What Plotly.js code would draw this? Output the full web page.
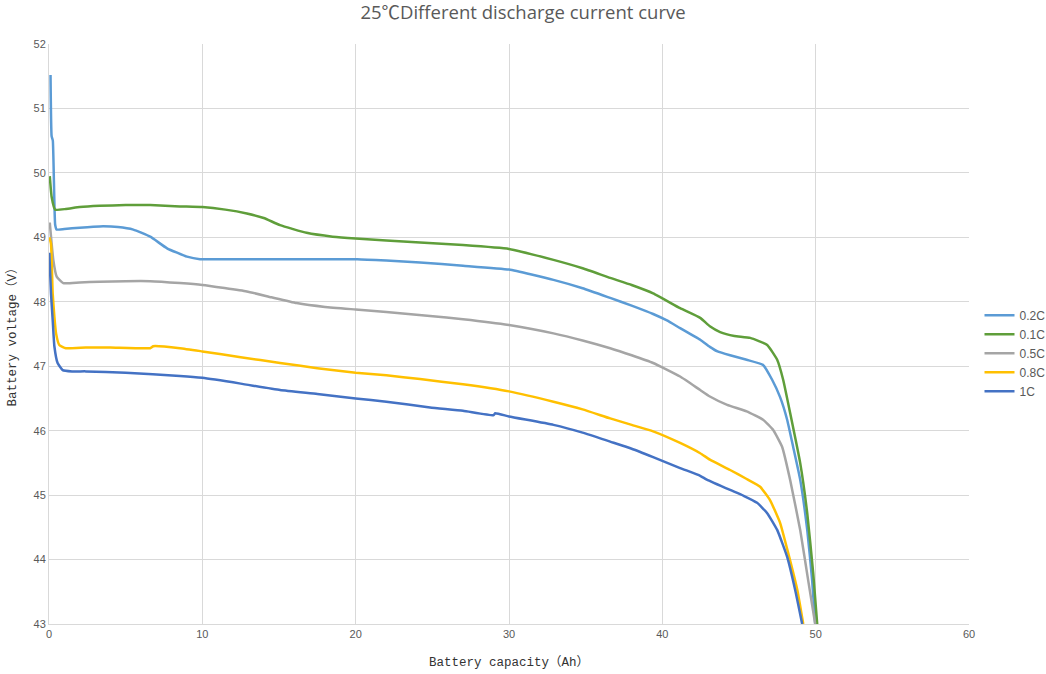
<!DOCTYPE html>
<html>
<head>
<meta charset="utf-8">
<script src="https://cdn.plot.ly/plotly-3.0.1.min.js"></script>
<style>html,body{margin:0;padding:0;background:#fff;overflow:hidden;width:1046px;height:674px}#chart{width:1075px;height:674px}</style>
</head>
<body>
<div id="chart"></div>
<script>
const seriesNames = ["0.2C", "0.1C", "0.5C", "0.8C", "1C"];
const seriesColors = ["#5B9BD5", "#5F9E3A", "#A5A5A5", "#FFC000", "#4472C4"];

const c02_x = [0.1, 0.17, 0.25, 0.4, 0.5, 1, 2, 3.3, 4.5, 5.5, 6.6, 7.7, 9, 9.85, 10.5, 15, 20.1, 22, 24.2, 27, 30, 32.9, 34.8, 36.6, 38, 39.4, 40.3, 41.16, 42.47, 43.1, 43.6, 44.42, 45.5, 46.57, 47.16, 47.68, 48.14, 48.53, 48.99, 49.45, 49.77, 49.97];
const c02_y = [51.52, 50.57, 50.5, 49.2, 49.12, 49.13, 49.15, 49.17, 49.16, 49.12, 49.01, 48.83, 48.70, 48.66, 48.66, 48.66, 48.66, 48.64, 48.61, 48.56, 48.50, 48.34, 48.21, 48.06, 47.94, 47.81, 47.71, 47.59, 47.41, 47.30, 47.23, 47.17, 47.10, 47.02, 46.79, 46.52, 46.17, 45.75, 45.24, 44.46, 43.68, 43.0];

const c01_x = [0.05, 0.17, 0.4, 1.1, 2, 3.3, 5, 6.6, 8.54, 10, 11.5, 12.9, 14, 15.07, 16.8, 18.5, 20, 22, 24.2, 27, 30, 32.9, 34.8, 36.6, 38, 39.4, 41.16, 42.47, 43.1, 43.77, 44.7, 45.73, 46.84, 47.49, 47.88, 48.34, 48.99, 49.45, 49.84, 50.1];
const c01_y = [49.95, 49.63, 49.43, 49.44, 49.47, 49.49, 49.50, 49.50, 49.48, 49.47, 49.43, 49.37, 49.30, 49.19, 49.07, 49.01, 48.98, 48.95, 48.92, 48.88, 48.82, 48.65, 48.52, 48.37, 48.26, 48.13, 47.90, 47.75, 47.62, 47.53, 47.47, 47.44, 47.33, 47.10, 46.79, 46.27, 45.50, 44.72, 43.79, 43.0];

const c05_x = [0.05, 0.28, 0.5, 0.93, 2, 3.3, 5, 6.6, 8.54, 10, 12.9, 14.5, 16.15, 18, 20, 22, 24.85, 27, 30, 32.9, 34.8, 36.6, 38, 39.4, 41.16, 42.47, 43.1, 44.23, 45.5, 46.57, 47.23, 47.81, 48.34, 48.99, 49.51, 49.97];
const c05_y = [49.23, 48.65, 48.39, 48.29, 48.30, 48.31, 48.32, 48.32, 48.29, 48.26, 48.16, 48.07, 47.98, 47.92, 47.88, 47.84, 47.78, 47.73, 47.64, 47.51, 47.40, 47.28, 47.17, 47.05, 46.84, 46.63, 46.53, 46.40, 46.30, 46.17, 46.01, 45.75, 45.23, 44.46, 43.68, 43.0];

const c08_x = [0.02, 0.13, 0.24, 0.35, 0.46, 0.67, 1.1, 2.4, 4, 6.6, 6.8, 8.54, 10, 12.5, 15.07, 17.5, 20, 22, 24.2, 27, 30, 32.9, 34.8, 36.6, 38, 39.4, 41.16, 42.47, 43.1, 44.42, 45.5, 46.38, 47.03, 47.68, 48.21, 48.8, 49.19];
const c08_y = [49.0, 48.9, 48.13, 47.77, 47.51, 47.33, 47.28, 47.29, 47.29, 47.28, 47.31, 47.28, 47.23, 47.14, 47.05, 46.97, 46.90, 46.86, 46.80, 46.72, 46.61, 46.45, 46.33, 46.19, 46.09, 45.99, 45.81, 45.65, 45.55, 45.39, 45.25, 45.13, 44.92, 44.57, 44.10, 43.53, 43.0];

const c10_x = [0.02, 0.13, 0.24, 0.35, 0.56, 0.89, 1.5, 2.4, 5, 8.54, 10, 12.5, 15.07, 17.5, 20, 22, 24.85, 27, 29.0, 29.1, 30, 32.9, 34.8, 36.6, 38, 39.4, 41.16, 42.47, 42.9, 44.42, 45.3, 46.18, 46.84, 47.49, 48.14, 48.66, 49.12];
const c10_y = [48.76, 48.13, 47.72, 47.31, 47.05, 46.94, 46.92, 46.92, 46.90, 46.85, 46.82, 46.73, 46.63, 46.57, 46.50, 46.45, 46.36, 46.31, 46.24, 46.27, 46.22, 46.09, 45.97, 45.83, 45.72, 45.59, 45.42, 45.30, 45.24, 45.08, 44.99, 44.88, 44.72, 44.46, 44.04, 43.53, 43.0];

const xTicks = [0, 10, 20, 30, 40, 50, 60];
const yTicks = [43, 44, 45, 46, 47, 48, 49, 50, 51, 52];

const xs = [c02_x, c01_x, c05_x, c08_x, c10_x];
const ys = [c02_y, c01_y, c05_y, c08_y, c10_y];

const traces = seriesNames.map((n, i) => ({
  type: 'scatter', mode: 'lines', name: n,
  x: xs[i], y: ys[i],
  line: {color: seriesColors[i], width: 2.5, shape: 'spline', smoothing: 0.4}
}));

const grey = '#595959';
const layout = {
  width: 1075, height: 674,
  margin: {l: 49, r: 106, t: 44, b: 50},
  paper_bgcolor: '#fff', plot_bgcolor: '#fff',
  font: {family: '"Liberation Sans", Arial, sans-serif', color: grey, size: 11},
  title: {text: '25℃Different discharge current curve', x: (523 - 49) / 920, xref: 'paper', xanchor: 'center', y: 0.982, yanchor: 'middle',
          font: {family: '"Open Sans", "Noto Sans CJK SC", sans-serif', size: 18.5, color: grey}},
  xaxis: {range: [0, 60], tickvals: xTicks, ticktext: xTicks.map(String), showgrid: true, gridcolor: '#D9D9D9', gridwidth: 1,
          zeroline: false, showline: true, linecolor: '#D9D9D9', linewidth: 1, ticks: '', ticklen: 0,
          tickfont: {size: 11, color: grey},
          title: {text: 'Battery capacity（Ah）', standoff: 18,
                  font: {family: '"Liberation Mono", "Noto Sans CJK SC", monospace', size: 12.5, color: '#333'}}},
  yaxis: {range: [43, 52], tickvals: yTicks, ticktext: yTicks.map(String), showgrid: true, gridcolor: '#D9D9D9', gridwidth: 1,
          zeroline: false, showline: true, linecolor: '#D9D9D9', linewidth: 1, ticks: '', ticklen: 0,
          tickfont: {size: 11, color: grey},
          title: {text: 'Battery voltage（V）', standoff: 14,
                  font: {family: '"Liberation Mono", "Noto Sans CJK SC", monospace', size: 12.5, color: '#333'}}},
  legend: {x: (979.5 - 49) / 920, xanchor: 'left', y: 0.467, yanchor: 'middle', itemwidth: 30,
           font: {size: 12, color: grey}, bgcolor: 'rgba(0,0,0,0)'},
  showlegend: true
};

Plotly.newPlot('chart', traces, layout, {displayModeBar: false, staticPlot: true});
</script>
</body>
</html>
